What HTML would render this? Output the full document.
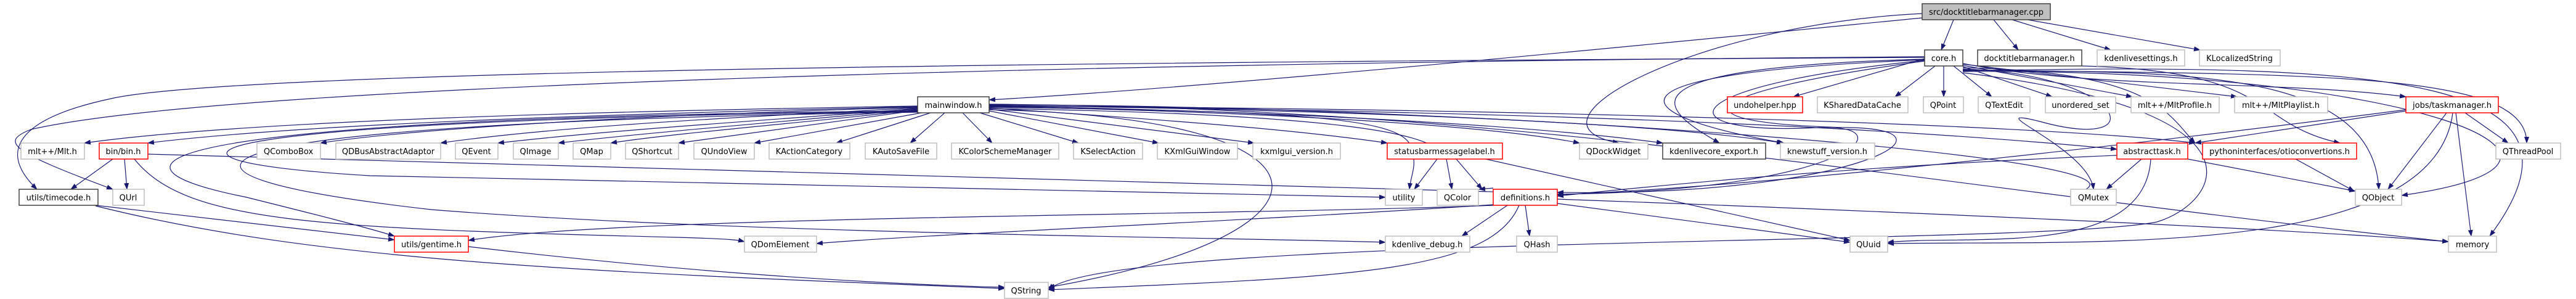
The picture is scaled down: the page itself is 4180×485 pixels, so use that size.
<!DOCTYPE html>
<html><head><meta charset="utf-8"><style>
html,body{margin:0;padding:0;background:#fff;}
svg{display:block;}
text{font-family:"DejaVu Sans","Liberation Sans",sans-serif;font-size:13px;fill:#000;text-anchor:middle;}
.g{fill:#fff;stroke:#bfbfbf;stroke-width:1.5}
.r{fill:#fff;stroke:#ff0000;stroke-width:1.5}
.b{fill:#fff;stroke:#404040;stroke-width:1.5}
.t{fill:#bfbfbf;stroke:#404040;stroke-width:1.5}
.e{fill:none;stroke:#191970;stroke-width:1.2;marker-end:url(#a)}
</style></head><body>
<svg width="4180" height="485" viewBox="0 0 4180 485" xmlns="http://www.w3.org/2000/svg">
<defs><marker id="a" markerWidth="11" markerHeight="8" refX="10" refY="4" orient="auto" markerUnits="userSpaceOnUse"><path d="M0,0 L11,4 L0,8 z" fill="#191970"/></marker></defs>

<path class="e" d="M3170,32 L3150,81"/>
<path class="e" d="M3235,32 L3275,81"/>
<path class="e" d="M3265,32 L3425,81"/>
<path class="e" d="M3290,32 L3570,81"/>
<path class="e" d="M3119,29 C2800,60 2000,140 1605,162"/>
<path class="e" d="M3119,22 C2750,40 2450,200 2627,232"/>

<path class="e" d="M3123,95 L2910,157"/>
<path class="e" d="M3140,107 L3075,157"/>
<path class="e" d="M3154,107 L3154,157"/>
<path class="e" d="M3170,107 L3232,157"/>
<path class="e" d="M3185,108 L3330,157"/>
<path class="e" d="M3185,106 L3460,157"/>
<path class="e" d="M3185,104 L3630,157"/>
<path class="e" d="M3185,103 C3400,145 3700,130 3904,157"/>
<path class="e" d="M3123,96 C2600,110 2700,180 2790,232"/>
<path class="e" d="M3123,97 C2550,120 2650,190 2895,232"/>
<path class="e" d="M3123,98 C2700,140 2700,220 2950,207 C3100,200 3000,310 2527,315"/>
<path class="e" d="M3123,99 C2750,150 2700,200 3000,207 C3200,210 3000,320 2527,312"/>
<path class="e" d="M3185,110 C3500,115 3520,190 3562,232"/>
<path class="e" d="M3185,112 C3450,120 3500,250 3310,197 C3200,170 3390,240 3397,307"/>
<path class="e" d="M3185,113 C3500,120 3850,100 3860,307"/>
<path class="e" d="M3185,114 C3800,120 4100,120 4100,232"/>
<path class="e" d="M3185,115 C3900,100 4230,130 4040,383"/>
<path class="e" d="M3185,116 C3900,110 4300,260 3897,317"/>
<path class="e" d="M3123,93 C2000,100 400,110 180,160 C 40,190 -10,240 60,307"/>
<path class="e" d="M3123,92 C2000,100 400,130 50,210 C 0,230 15,245 183,307"/>
<path class="e" d="M3185,118 C3700,180 3600,330 3500,360 C3300,400 1800,380 1701,470"/>

<path class="e" d="M3378,107 C3700,115 3650,200 3797,232"/>

<path class="e" d="M1489,172 C1000,180 400,195 137,232"/>
<path class="e" d="M1489,173 C1000,185 500,200 240,232"/>
<path class="e" d="M1489,174 C1100,185 700,205 520,232"/>
<path class="e" d="M1489,175 C1200,190 900,205 715,232"/>
<path class="e" d="M1489,176 C1250,195 1000,210 808,232"/>
<path class="e" d="M1489,177 C1300,195 1050,215 906,232"/>
<path class="e" d="M1489,178 C1350,195 1100,215 991,232"/>
<path class="e" d="M1489,179 L1101,232"/>
<path class="e" d="M1495,183 L1224,232"/>
<path class="e" d="M1510,183 L1357,232"/>
<path class="e" d="M1533,183 L1477,232"/>
<path class="e" d="M1562,183 L1610,232"/>
<path class="e" d="M1590,183 L1750,232"/>
<path class="e" d="M1605,180 L1880,232"/>
<path class="e" d="M1605,177 L2035,232"/>
<path class="e" d="M1605,175 C1900,195 2100,210 2251,232"/>
<path class="e" d="M1605,173 C2000,180 2400,200 2563,232"/>
<path class="e" d="M1605,172 C2100,180 2500,205 2698,232"/>
<path class="e" d="M1605,171 C2200,178 2700,200 2893,232"/>
<path class="e" d="M1605,174 C2100,180 2280,190 2290,240 C2300,270 2290,280 2287,307"/>
<path class="e" d="M1605,176 C2200,185 2300,220 2330,240 L3002,390"/>
<path class="e" d="M1605,171 C2400,180 3000,200 3435,242"/>
<path class="e" d="M1605,172 C2400,175 3300,200 3562,232"/>
<path class="e" d="M1489,180 C300,190 100,260 400,320 C500,345 600,370 640,383"/>
<path class="e" d="M1489,181 C250,195 180,260 600,285 L2248,320"/>
<path class="e" d="M1489,182 C250,200 170,280 700,340 C1200,380 2000,385 2248,393"/>
<path class="e" d="M1605,178 C2200,190 2200,380 1701,466"/>
<path class="e" d="M1605,170 C2400,170 3600,260 3360,315"/>
<path class="e" d="M1605,169 C2500,175 3100,300 3973,392"/>

<path class="e" d="M183,258 L115,307"/>
<path class="e" d="M202,258 L206,307"/>
<path class="e" d="M218,258 C300,360 500,370 1100,385 C1200,388 1200,390 1208,392"/>
<path class="e" d="M240,250 C700,265 1500,280 2527,314"/>

<path class="e" d="M155,333 L640,389"/>
<path class="e" d="M155,334 C500,420 900,440 1630,468"/>

<path class="e" d="M760,400 C1100,440 1400,460 1630,466"/>

<path class="e" d="M2332,258 L2295,307"/>
<path class="e" d="M2347,258 L2356,307"/>
<path class="e" d="M2363,258 L2405,307"/>

<path class="e" d="M2423,305 L2400,307"/>
<path class="e" d="M2446,333 L2372,383"/>
<path class="e" d="M2475,333 L2482,383"/>
<path class="e" d="M2527,330 L3002,393"/>
<path class="e" d="M2527,323 C3000,340 3700,370 3973,392"/>
<path class="e" d="M2465,333 C2420,440 2200,450 1701,470"/>
<path class="e" d="M2423,333 C2000,350 1000,350 760,390"/>
<path class="e" d="M2423,332 C2000,360 1500,380 1325,395"/>

<path class="e" d="M3435,252 C3000,270 2700,300 2527,318"/>
<path class="e" d="M3475,258 L3418,307"/>
<path class="e" d="M3550,258 L3822,310"/>
<path class="e" d="M3490,258 C3480,420 3200,380 3063,393"/>

<path class="e" d="M3904,180 L3562,232"/>
<path class="e" d="M3904,178 C3500,230 2900,300 2527,316"/>
<path class="e" d="M3970,183 L3875,307"/>
<path class="e" d="M4000,183 L4070,232"/>
<path class="e" d="M3985,183 L4010,383"/>
<path class="e" d="M3980,183 C3950,420 3400,390 3063,395"/>

<path class="e" d="M3725,258 L3820,310"/>

<rect class="t" x="3119" y="6" width="208" height="26"/><text x="3223" y="24">src/docktitlebarmanager.cpp</text>
<rect class="b" x="3123" y="81" width="62" height="26"/><text x="3154" y="99">core.h</text>
<rect class="b" x="3209" y="81" width="169" height="26"/><text x="3293" y="99">docktitlebarmanager.h</text>
<rect class="g" x="3403" y="81" width="142" height="26"/><text x="3474" y="99">kdenlivesettings.h</text>
<rect class="g" x="3569" y="81" width="131" height="26"/><text x="3634" y="99">KLocalizedString</text>

<rect class="b" x="1489" y="157" width="116" height="26"/><text x="1547" y="175">mainwindow.h</text>
<rect class="r" x="2803" y="157" width="122" height="26"/><text x="2864" y="175">undohelper.hpp</text>
<rect class="g" x="2949" y="157" width="147" height="26"/><text x="3022" y="175">KSharedDataCache</text>
<rect class="g" x="3121" y="157" width="65" height="26"/><text x="3153" y="175">QPoint</text>
<rect class="g" x="3210" y="157" width="84" height="26"/><text x="3252" y="175">QTextEdit</text>
<rect class="g" x="3319" y="157" width="114" height="26"/><text x="3376" y="175">unordered_set</text>
<rect class="g" x="3458" y="157" width="143" height="26"/><text x="3529" y="175">mlt++/MltProfile.h</text>
<rect class="g" x="3626" y="157" width="151" height="26"/><text x="3701" y="175">mlt++/MltPlaylist.h</text>
<rect class="r" x="3904" y="157" width="150" height="26"/><text x="3979" y="175">jobs/taskmanager.h</text>

<rect class="g" x="34" y="232" width="103" height="26"/><text x="85" y="250">mlt++/Mlt.h</text>
<rect class="r" x="161" y="232" width="79" height="26"/><text x="200" y="250">bin/bin.h</text>
<rect class="g" x="417" y="232" width="103" height="26"/><text x="468" y="250">QComboBox</text>
<rect class="g" x="545" y="232" width="170" height="26"/><text x="630" y="250">QDBusAbstractAdaptor</text>
<rect class="g" x="739" y="232" width="69" height="26"/><text x="773" y="250">QEvent</text>
<rect class="g" x="833" y="232" width="73" height="26"/><text x="869" y="250">QImage</text>
<rect class="g" x="930" y="232" width="61" height="26"/><text x="960" y="250">QMap</text>
<rect class="g" x="1015" y="232" width="86" height="26"/><text x="1058" y="250">QShortcut</text>
<rect class="g" x="1126" y="232" width="98" height="26"/><text x="1175" y="250">QUndoView</text>
<rect class="g" x="1248" y="232" width="131" height="26"/><text x="1313" y="250">KActionCategory</text>
<rect class="g" x="1404" y="232" width="116" height="26"/><text x="1462" y="250">KAutoSaveFile</text>
<rect class="g" x="1544" y="232" width="174" height="26"/><text x="1631" y="250">KColorSchemeManager</text>
<rect class="g" x="1742" y="232" width="112" height="26"/><text x="1798" y="250">KSelectAction</text>
<rect class="g" x="1878" y="232" width="130" height="26"/><text x="1943" y="250">KXmlGuiWindow</text>
<rect class="g" x="2033" y="232" width="142" height="26"/><text x="2104" y="250">kxmlgui_version.h</text>
<rect class="r" x="2251" y="232" width="187" height="26"/><text x="2344" y="250">statusbarmessagelabel.h</text>
<rect class="g" x="2563" y="232" width="111" height="26"/><text x="2618" y="250">QDockWidget</text>
<rect class="b" x="2698" y="232" width="167" height="26"/><text x="2781" y="250">kdenlivecore_export.h</text>
<rect class="g" x="2889" y="232" width="153" height="26"/><text x="2965" y="250">knewstuff_version.h</text>
<rect class="r" x="3435" y="232" width="115" height="26"/><text x="3492" y="250">abstracttask.h</text>
<rect class="r" x="3574" y="232" width="250" height="26"/><text x="3699" y="250">pythoninterfaces/otioconvertions.h</text>
<rect class="g" x="4050" y="232" width="105" height="26"/><text x="4102" y="250">QThreadPool</text>

<rect class="b" x="31" y="307" width="128" height="26"/><text x="95" y="325">utils/timecode.h</text>
<rect class="g" x="183" y="307" width="51" height="26"/><text x="208" y="325">QUrl</text>
<rect class="g" x="2248" y="307" width="60" height="26"/><text x="2278" y="325">utility</text>
<rect class="g" x="2332" y="307" width="67" height="26"/><text x="2365" y="325">QColor</text>
<rect class="r" x="2423" y="307" width="104" height="26"/><text x="2475" y="325">definitions.h</text>
<rect class="g" x="3360" y="307" width="74" height="26"/><text x="3397" y="325">QMutex</text>
<rect class="g" x="3822" y="307" width="75" height="26"/><text x="3859" y="325">QObject</text>

<rect class="r" x="640" y="383" width="120" height="26"/><text x="700" y="401">utils/gentime.h</text>
<rect class="g" x="1208" y="383" width="117" height="26"/><text x="1266" y="401">QDomElement</text>
<rect class="g" x="2248" y="383" width="137" height="26"/><text x="2316" y="401">kdenlive_debug.h</text>
<rect class="g" x="2461" y="383" width="66" height="26"/><text x="2494" y="401">QHash</text>
<rect class="g" x="3002" y="383" width="61" height="26"/><text x="3032" y="401">QUuid</text>
<rect class="g" x="3973" y="383" width="78" height="26"/><text x="4012" y="401">memory</text>

<rect class="g" x="1630" y="458" width="71" height="26"/><text x="1665" y="476">QString</text>
</svg>
</body></html>
